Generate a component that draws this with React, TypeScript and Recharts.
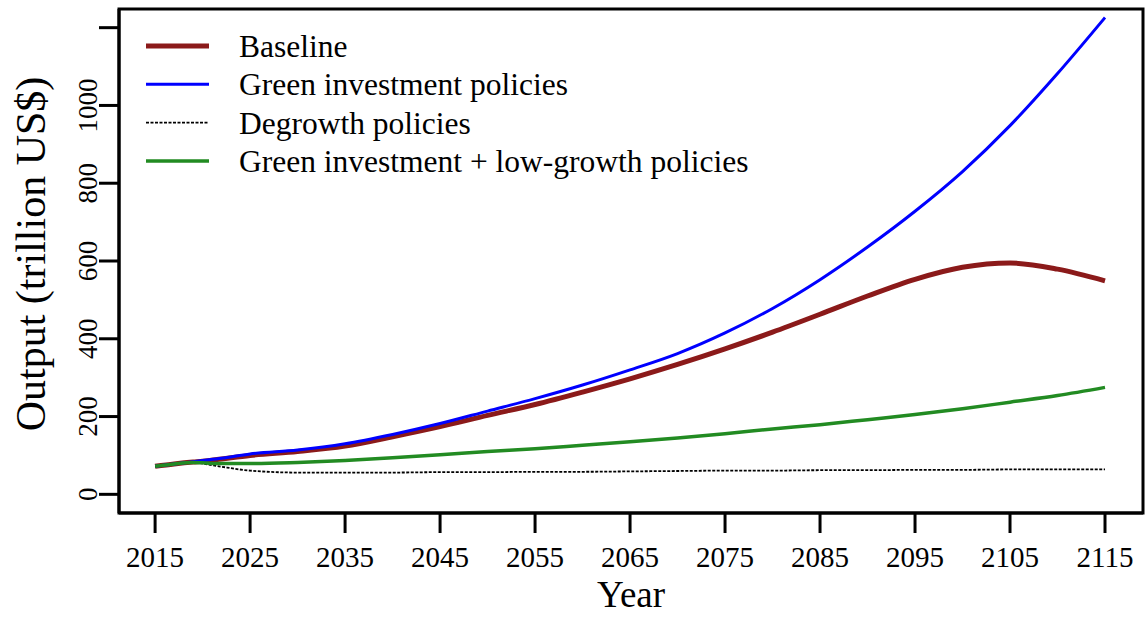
import React from 'react'
import { LineChart, Line, XAxis, YAxis, Legend, Label, ReferenceArea } from 'recharts'

const FONT = '"Liberation Serif", "Times New Roman", serif'

// model years (denser at the start where the scenarios split)
const years = [
  2015, 2017, 2019, 2020, 2022, 2025, 2030, 2035, 2040, 2045, 2050, 2055,
  2060, 2065, 2070, 2075, 2080, 2085, 2090, 2095, 2100, 2105, 2110, 2115,
]

// output, trillion US$
const baseline = [
  72, 78, 83, 85, 91, 100, 110, 124, 148, 174, 203, 231,
  263, 297, 334, 374, 417, 463, 510, 553, 584, 595, 579, 549,
]
const greenInvestment = [
  72, 78, 84, 87, 93, 104, 114, 130, 154, 182, 214, 246,
  281, 320, 362, 415, 478, 552, 636, 728, 830, 948, 1082, 1226,
]
const degrowth = [
  72, 78, 82, 79, 71, 61, 56, 56, 56, 57, 57, 58,
  58, 59, 60, 61, 61, 62, 62, 63, 63, 64, 64, 64,
]
const greenLowGrowth = [
  72, 78, 82, 81, 79, 79, 82, 87, 94, 102, 110, 117,
  126, 135, 145, 156, 168, 179, 192, 205, 220, 237, 254, 275,
]

const xTicks = [2015, 2025, 2035, 2045, 2055, 2065, 2075, 2085, 2095, 2105, 2115]
const yTicks = [0, 200, 400, 600, 800, 1000, 1200]
const X_DOMAIN: [number, number] = [2011.2, 2119]
const Y_DOMAIN: [number, number] = [-48, 1248]

const SERIES = [
  { key: 'baseline', name: 'Baseline', color: '#8b1a1a', width: 5 },
  { key: 'green', name: 'Green investment policies', color: '#0000ff', width: 3 },
  { key: 'degrowth', name: 'Degrowth policies', color: '#000000', width: 1.8, dash: '3 1.5' },
  { key: 'greenLow', name: 'Green investment + low-growth policies', color: '#228b22', width: 3.5 },
]

const data = years.map((year, i) => ({
  year,
  baseline: baseline[i],
  green: greenInvestment[i],
  degrowth: degrowth[i],
  greenLow: greenLowGrowth[i],
}))

function YearTick({ x, y, payload }: any) {
  return (
    <text x={x} y={y} dy={20} textAnchor="middle" fontFamily={FONT} fontSize={29} fill="#000">
      {payload.value}
    </text>
  )
}

// R-style y labels: parallel to the axis, top one left blank
function OutputTick({ x, y, payload }: any) {
  const label = payload.value === 1200 ? '' : String(payload.value)
  return (
    <text x={x} y={y} transform={`rotate(-90 ${x} ${y})`} textAnchor="middle"
      fontFamily={FONT} fontSize={27} fill="#000">
      {label}
    </text>
  )
}

function SeriesKey() {
  return (
    <svg width={800} height={190} style={{ display: 'block' }}>
      {SERIES.map((s, i) => {
        const y = 46 + i * 38.3
        return (
          <g key={s.key}>
            <line x1={146} x2={209} y1={y} y2={y} stroke={s.color}
              strokeWidth={s.width} strokeDasharray={s.dash} />
            <text x={239} y={y + 11} fontFamily={FONT} fontSize={31.5} fill="#000">{s.name}</text>
          </g>
        )
      })}
    </svg>
  )
}

const axisLine = { stroke: '#000', strokeWidth: 3 }

export default function App() {
  return (
    <div style={{ position: 'absolute', left: 0, top: 0, background: '#fff' }}>
      <LineChart width={1146} height={617} data={data}
        margin={{ top: 9, right: 3, bottom: 0, left: 0 }}>
        <XAxis dataKey="year" type="number" domain={X_DOMAIN} allowDataOverflow
          ticks={xTicks} height={104} tickSize={20} tickMargin={14}
          axisLine={axisLine} tickLine={axisLine} tick={<YearTick />}>
          <Label content={(p: any) => {
            const vb = p.viewBox
            return (
              <text x={vb.x + vb.width / 2} y={vb.y + 94} textAnchor="middle"
                fontFamily={FONT} fontSize={37} fill="#000">Year</text>
            )
          }} />
        </XAxis>
        <YAxis type="number" domain={Y_DOMAIN} allowDataOverflow ticks={yTicks}
          width={119} tickSize={20} tickMargin={2}
          axisLine={axisLine} tickLine={axisLine} tick={<OutputTick />}>
          <Label content={(p: any) => {
            const vb = p.viewBox
            const cx = vb.x + 45
            const cy = vb.y + vb.height / 2 - 7
            return (
              <text x={cx} y={cy} transform={`rotate(-90 ${cx} ${cy})`} textAnchor="middle"
                fontFamily={FONT} fontSize={42} fill="#000">Output (trillion US$)</text>
            )
          }} />
        </YAxis>
        {/* plot frame */}
        <ReferenceArea x1={X_DOMAIN[0]} x2={X_DOMAIN[1]} y1={Y_DOMAIN[0]} y2={Y_DOMAIN[1]}
          ifOverflow="visible" fill="none" fillOpacity={0} stroke="#000" strokeWidth={3} />
        <Legend layout="vertical" align="center" verticalAlign="middle"
          wrapperStyle={{ left: 0, top: 0, width: 800 }} content={() => <SeriesKey />} />
        {SERIES.map(s => (
          <Line key={s.key} type="monotone" dataKey={s.key} name={s.name}
            stroke={s.color} strokeWidth={s.width} strokeDasharray={s.dash}
            dot={false} activeDot={false} isAnimationActive={false} />
        ))}
      </LineChart>
    </div>
  )
}
